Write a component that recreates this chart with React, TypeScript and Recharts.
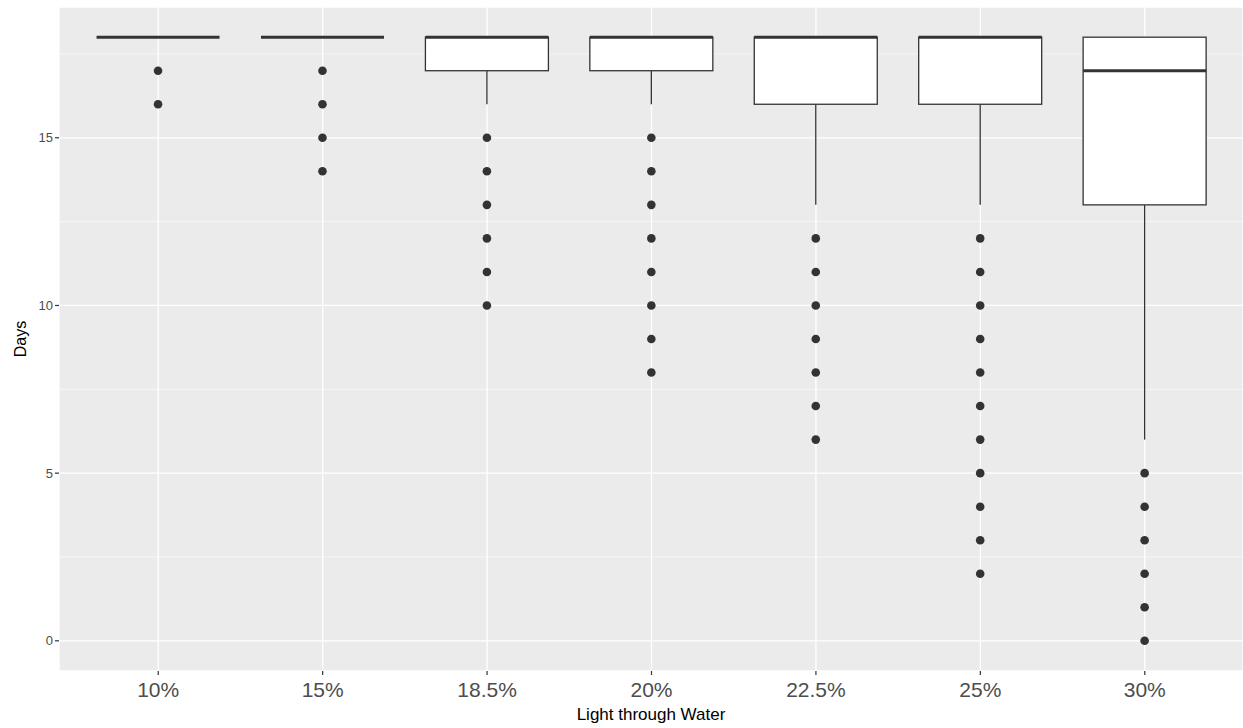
import React from 'react';
import { ComposedChart, Bar, XAxis, YAxis, CartesianGrid } from 'recharts';

const categories = ['10%', '15%', '18.5%', '20%', '22.5%', '25%', '30%'];
const lowerWhisker = [18, 18, 16, 16, 13, 13, 6];
const q1Values = [18, 18, 17, 17, 16, 16, 13];
const medianValues = [18, 18, 18, 18, 18, 18, 17];
const q3Values = [18, 18, 18, 18, 18, 18, 18];
const upperWhisker = [18, 18, 18, 18, 18, 18, 18];
const outlierValues = [
  [17, 16],
  [17, 16, 15, 14],
  [15, 14, 13, 12, 11, 10],
  [15, 14, 13, 12, 11, 10, 9, 8],
  [12, 11, 10, 9, 8, 7, 6],
  [12, 11, 10, 9, 8, 7, 6, 5, 4, 3, 2],
  [5, 4, 3, 2, 1, 0],
];
const yTicks = [0, 5, 10, 15];
const minorTicks = [2.5, 7.5, 12.5, 17.5];

const data = categories.map((cat, i) => {
  const all = [lowerWhisker[i], upperWhisker[i], ...outlierValues[i]];
  const lo = Math.min(...all);
  const hi = Math.max(...all);
  return {
    cat,
    range: [lo, hi],
    lo,
    hi,
    wLow: lowerWhisker[i],
    q1: q1Values[i],
    med: medianValues[i],
    q3: q3Values[i],
    wHigh: upperWhisker[i],
    outliers: outlierValues[i],
  };
});

const INK = '#333333';

const BoxShape = (props: any) => {
  const { x, y, width, height, payload } = props;
  if (!payload) return null;
  const top = Math.min(y, y + height);
  const bottom = Math.max(y, y + height);
  const { lo, hi } = payload;
  const py = (v: number) => (hi === lo ? top : top + ((bottom - top) * (hi - v)) / (hi - lo));
  const cx = x + width / 2;
  const boxTop = py(payload.q3);
  const boxBottom = py(payload.q1);
  return (
    <g>
      {payload.wLow < payload.q1 && (
        <line x1={cx} x2={cx} y1={py(payload.wLow)} y2={boxBottom} stroke={INK} strokeWidth={1.3} />
      )}
      {payload.wHigh > payload.q3 && (
        <line x1={cx} x2={cx} y1={py(payload.wHigh)} y2={boxTop} stroke={INK} strokeWidth={1.3} />
      )}
      <rect
        x={x}
        y={boxTop}
        width={width}
        height={Math.max(0, boxBottom - boxTop)}
        fill="#FFFFFF"
        stroke={INK}
        strokeWidth={1.3}
      />
      <line x1={x} x2={x + width} y1={py(payload.med)} y2={py(payload.med)} stroke={INK} strokeWidth={3} />
      {payload.outliers.map((v: number, k: number) => (
        <circle key={k} cx={cx} cy={py(v)} r={4.3} fill={INK} />
      ))}
    </g>
  );
};

export default function App() {
  return (
    <div style={{ position: 'absolute', left: 0, top: 0, width: 1243, height: 728, background: '#fff' }}>
      <ComposedChart
        width={1243}
        height={728}
        data={data}
        margin={{ top: 7, right: 0, left: 0, bottom: 0 }}
        barCategoryGap="12.5%"
        style={{ fontFamily: '"Liberation Sans", Arial, sans-serif' }}
      >
        <CartesianGrid fill="#EBEBEB" stroke="#FFFFFF" strokeWidth={1.3} />
        <CartesianGrid
          vertical={false}
          horizontalValues={minorTicks}
          stroke="#FFFFFF"
          strokeWidth={0.6}
        />
        <XAxis
          dataKey="cat"
          type="category"
          height={57}
          padding={{ left: 17, right: 16 }}
          axisLine={false}
          tickSize={4}
          tickMargin={7}
          tickLine={{ stroke: INK, strokeWidth: 1.2 }}
          tick={{ fontSize: 21, fill: '#4D4D4D' }}
          interval={0}
          label={{ value: 'Light through Water', position: 'insideBottom', offset: 8, fontSize: 17, fill: '#000' }}
        />
        <YAxis
          type="number"
          domain={[-0.9, 18.9]}
          ticks={yTicks}
          allowDataOverflow
          width={59}
          axisLine={false}
          tickSize={4}
          tickMargin={2}
          tickLine={{ stroke: INK, strokeWidth: 1.2 }}
          tick={{ fontSize: 13, fill: '#4D4D4D' }}
          label={{ value: 'Days', angle: -90, position: 'insideLeft', offset: 20, fontSize: 16, fill: '#000', style: { textAnchor: 'middle' } }}
        />
        <Bar dataKey="range" shape={BoxShape} isAnimationActive={false} />
      </ComposedChart>
    </div>
  );
}
